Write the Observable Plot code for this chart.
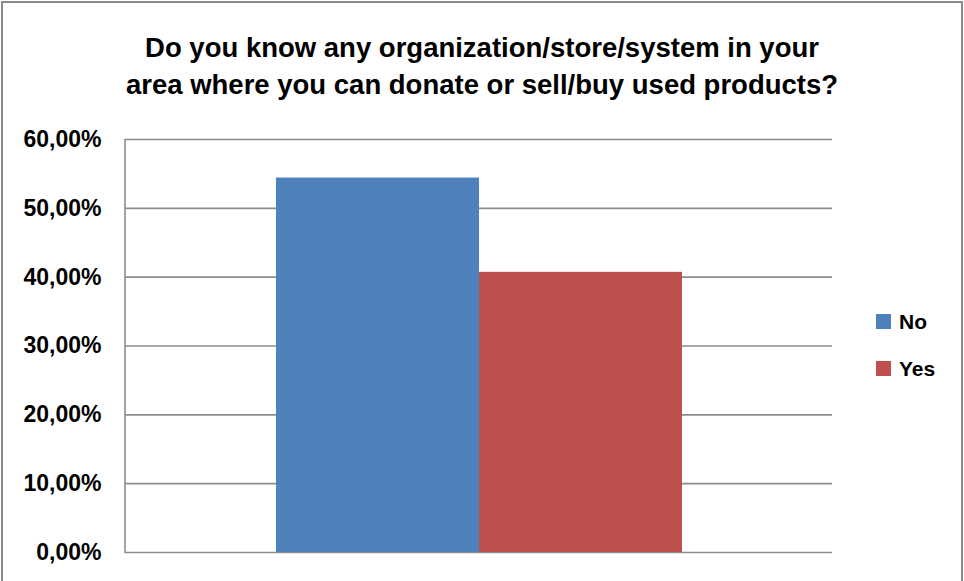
<!DOCTYPE html>
<html>
<head>
<meta charset="utf-8">
<script src="https://cdn.jsdelivr.net/npm/d3@7"></script>
<script src="https://cdn.jsdelivr.net/npm/@observablehq/plot@0.6"></script>
<style>
  html, body { margin: 0; padding: 0; background: #fff; }
  #wrap { position: relative; width: 964px; height: 581px; overflow: hidden; font-family: "Liberation Sans", Arial, sans-serif; }
  #border { position: absolute; left: 1px; top: 1px; width: 958px; height: 590px; border: 2px solid #8a8a8a; }
  #title { position: absolute; left: 0; top: 29px; width: 964px; text-align: center; font-weight: bold; font-size: 27.5px; line-height: 37px; color: #000; white-space: nowrap; }
  #chart { position: absolute; left: 0; top: 110px; }
  #legend { position: absolute; left: 876px; top: 298px; font-weight: bold; font-size: 21px; color: #000; }
  .item { display: flex; align-items: center; height: 47px; }
  .sw { width: 15px; height: 15px; margin-right: 8px; }
</style>
</head>
<body>
<div id="wrap">
  <div id="border"></div>
  <div id="title">Do you know any organization/store/system in your<br>area where you can donate or sell/buy used products?</div>
  <div id="chart"></div>
  <div id="legend"></div>
</div>
<script>
const categories = ["No", "Yes"];
const values = [54.4, 40.7];
const colors = ["#4F81BD", "#C0504D"];
const yTicks = [0, 10, 20, 30, 40, 50, 60];

const data = categories.map((c, i) => ({answer: c, value: values[i]}));
const fmt = d => d.toFixed(2).replace(".", ",") + "%";

const W = 964, H = 470, mL = 125, mR = 132, mT = 29, mB = 28;

const chart = Plot.plot({
  width: W,
  height: H,
  marginLeft: mL,
  marginRight: mR,
  marginTop: mT,
  marginBottom: mB,
  style: {fontFamily: "Liberation Sans, Arial, sans-serif", fontWeight: "bold", fontSize: "23px", color: "#000", background: "transparent"},
  x: {domain: categories, range: [276, 682], padding: 0, axis: null},
  y: {domain: [0, 60], ticks: yTicks, tickFormat: fmt, label: null},
  color: {domain: categories, range: colors},
  marks: [
    Plot.ruleY(yTicks, {stroke: "#8c8c8c", strokeWidth: 1.6}),
    Plot.barY(data, {x: "answer", y: "value", fill: "answer"}),
    Plot.axisY({ticks: yTicks, tickFormat: fmt, tickSize: 0, tickPadding: 24, label: null, fontSize: 23, fontWeight: "bold", fill: "#000"})
  ]
});

// left axis line using the y scale
const ys = chart.scale("y");
d3.select(chart).append("line")
  .attr("x1", mL).attr("x2", mL)
  .attr("y1", ys.apply(0) + 1).attr("y2", ys.apply(60))
  .attr("stroke", "#8c8c8c").attr("stroke-width", 1.6);

document.getElementById("chart").appendChild(chart);

const legend = d3.select("#legend");
categories.forEach((c, i) => {
  const it = legend.append("div").attr("class", "item");
  it.append("div").attr("class", "sw").style("background", colors[i]);
  it.append("span").text(c);
});
</script>
</body>
</html>
